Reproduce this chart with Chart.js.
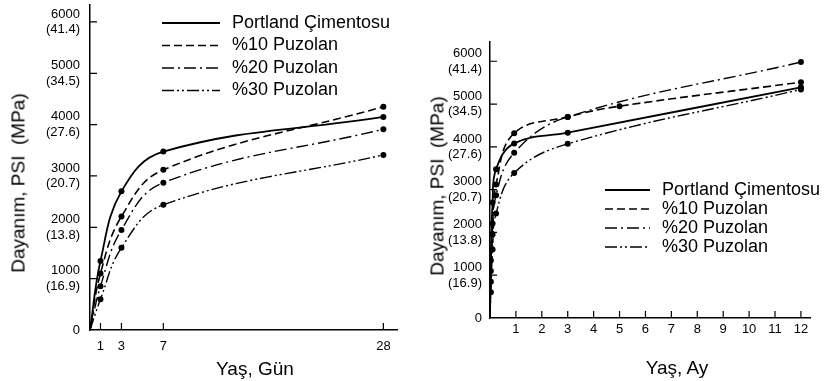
<!DOCTYPE html>
<html>
<head>
<meta charset="utf-8">
<script src="https://cdn.jsdelivr.net/npm/chart.js@4.4.0/dist/chart.umd.min.js"></script>
<style>
body { margin: 0; background: #fff; width: 827px; height: 381px; position: relative; overflow: hidden; font-family: "Liberation Sans", Arial, sans-serif; }
canvas { position: absolute; top: 0; }
#gunChart { left: 0; }
#ayChart { left: 415px; }
.axTitle { position: absolute; font-size: 19px; color: #000; white-space: pre; line-height: 1; }
.rot { transform: translate(-50%, -50%) rotate(-90deg); }
.hor { transform: translate(-50%, -50%); }
</style>
</head>
<body>
<canvas id="gunChart" width="410" height="381"></canvas>
<canvas id="ayChart" width="412" height="381"></canvas>
<div class="axTitle rot" style="left:18px;top:183px">Dayanım, PSI  (MPa)</div>
<div class="axTitle hor" style="left:255px;top:368px">Yaş, Gün</div>
<div class="axTitle rot" style="left:437px;top:186px">Dayanım, PSI  (MPa)</div>
<div class="axTitle hor" style="left:677px;top:367px">Yaş, Ay</div>
<script>
//Data
const seriesNames = ['Portland Çimentosu', '%10 Puzolan', '%20 Puzolan', '%30 Puzolan']

const dayAges = [0, 1, 3, 7, 28]
const dayTicks = [1, 3, 7, 28]
const dayPortland = [0, 1345, 2700, 3475, 4150]
const dayPuz10 = [0, 1100, 2210, 3120, 4350]
const dayPuz20 = [0, 850, 1950, 2870, 3910]
const dayPuz30 = [0, 600, 1600, 2440, 3410]

const monthAges = [0, 0.033, 0.1, 0.233, 0.933, 3, 5, 12]
const monthTicks = [1, 2, 3, 4, 5, 6, 7, 8, 9, 10, 11, 12]
const monthPortland = [0, 1345, 2700, 3475, 4080, 4330, null, 5390]
const monthPuz10 = [0, 1100, 2210, 3120, 4320, 4700, 4950, 5510]
const monthPuz20 = [0, 850, 1950, 2870, 3860, 4700, null, 5980]
const monthPuz30 = [0, 600, 1600, 2440, 3390, 4070, null, 5340]

const psiTicks = [0, 1000, 2000, 3000, 4000, 5000, 6000]
const mpaLabels = ['', '(16.9)', '(13.8)', '(20.7)', '(27.6)', '(34.5)', '(41.4)']

const fontFamily = '"Liberation Sans", Arial, sans-serif'
const dashes = [[], [8, 4], [12, 4, 2, 4], [12, 3, 2, 3, 2, 3]]
const widths = [1.8, 1.6, 1.4, 1.4]

//Plugins
const innerTicks = {
  id: 'innerTicks',
  afterDatasetsDraw(chart, args, opts) {
    const { ctx, chartArea } = chart
    const xs = chart.scales.x
    const ys = chart.scales.y
    ctx.save()
    ctx.strokeStyle = '#000'
    ctx.lineWidth = 1.2
    ctx.beginPath()
    xs.ticks.forEach(t => {
      const px = xs.getPixelForValue(t.value)
      ctx.moveTo(px, chartArea.bottom)
      ctx.lineTo(px, chartArea.bottom - opts.len)
    })
    ys.ticks.forEach(t => {
      if (t.value === 0) return
      const py = ys.getPixelForValue(t.value)
      ctx.moveTo(chartArea.left, py)
      ctx.lineTo(chartArea.left + opts.len, py)
    })
    ctx.stroke()
    ctx.restore()
  }
}

const lineLegend = {
  id: 'lineLegend',
  afterDraw(chart, args, opts) {
    const ctx = chart.ctx
    ctx.save()
    ctx.font = '18px ' + fontFamily
    ctx.textBaseline = 'middle'
    ctx.fillStyle = '#000'
    ctx.strokeStyle = '#000'
    chart.data.datasets.forEach((ds, i) => {
      const y = opts.top + i * opts.rowGap
      ctx.beginPath()
      ctx.setLineDash(ds.borderDash || [])
      ctx.lineWidth = ds.borderWidth
      ctx.moveTo(opts.lineFrom, y)
      ctx.lineTo(opts.lineTo, y)
      ctx.stroke()
      ctx.setLineDash([])
      ctx.fillText(ds.label, opts.textX, y)
    })
    ctx.restore()
  }
}

//Build
function makeDatasets(ages, seriesList) {
  return seriesList.map((vals, i) => ({
    label: seriesNames[i],
    data: ages.map((a, j) => ({ x: a, y: vals[j] })).filter(p => p.y !== null),
    borderColor: '#000',
    backgroundColor: '#000',
    borderWidth: widths[i],
    borderDash: dashes[i],
    tension: 0.4,
    pointRadius: ctx => (ctx.raw && ctx.raw.x === 0) ? 0 : 3,
    pointBorderWidth: 0,
    fill: false
  }))
}

function buildChart(canvasId, cfg) {
  return new Chart(document.getElementById(canvasId), {
    type: 'line',
    data: { datasets: makeDatasets(cfg.ages, cfg.series) },
    options: {
      responsive: false,
      animation: false,
      devicePixelRatio: 1,
      layout: { padding: { left: 0, right: cfg.padRight, top: cfg.padTop, bottom: 0 } },
      plugins: {
        legend: { display: false },
        tooltip: { enabled: false },
        innerTicks: { len: 7 },
        lineLegend: cfg.legend
      },
      scales: {
        x: {
          type: 'linear',
          min: 0,
          max: cfg.xMax,
          grid: { display: false, drawTicks: false },
          border: { display: true, color: '#000', width: 1.5 },
          afterBuildTicks: s => { s.ticks = cfg.xTicks.map(v => ({ value: v })) },
          afterFit: s => { s.height = cfg.xHeight; s.paddingLeft = 0; s.paddingRight = 0 },
          ticks: { color: '#000', font: { size: 13, family: fontFamily }, padding: cfg.xPad, maxRotation: 0, autoSkip: false }
        },
        y: {
          type: 'linear',
          min: 0,
          max: cfg.yMax,
          grid: { display: false, drawTicks: false },
          border: { display: true, color: '#000', width: 1.5 },
          afterBuildTicks: s => { s.ticks = psiTicks.map(v => ({ value: v })) },
          afterFit: s => { s.width = cfg.yWidth; s.paddingTop = 0; s.paddingBottom = 0 },
          ticks: {
            color: '#000',
            font: { size: 13, family: fontFamily },
            padding: cfg.yPad,
            autoSkip: false,
            callback: v => {
              const k = psiTicks.indexOf(v)
              return v === 0 ? '0' : [String(v), mpaLabels[k]]
            }
          }
        }
      }
    },
    plugins: [innerTicks, lineLegend]
  })
}

buildChart('gunChart', {
  ages: dayAges,
  series: [dayPortland, dayPuz10, dayPuz20, dayPuz30],
  xTicks: dayTicks,
  xMax: 29.3,
  yMax: 6330,
  padRight: 13,
  padTop: 5,
  xHeight: 51,
  yWidth: 90,
  xPad: 9,
  yPad: 10,
  legend: { top: 23, rowGap: 22.5, lineFrom: 162, lineTo: 220, textX: 232 }
})

buildChart('ayChart', {
  ages: monthAges,
  series: [monthPortland, monthPuz10, monthPuz20, monthPuz30],
  xTicks: monthTicks,
  xMax: 12.35,
  yMax: 6450,
  padRight: 17,
  padTop: 42,
  xHeight: 63,
  yWidth: 75,
  xPad: 4,
  yPad: 8,
  legend: { top: 190, rowGap: 19, lineFrom: 190, lineTo: 235, textX: 247 }
})
</script>
</body>
</html>
